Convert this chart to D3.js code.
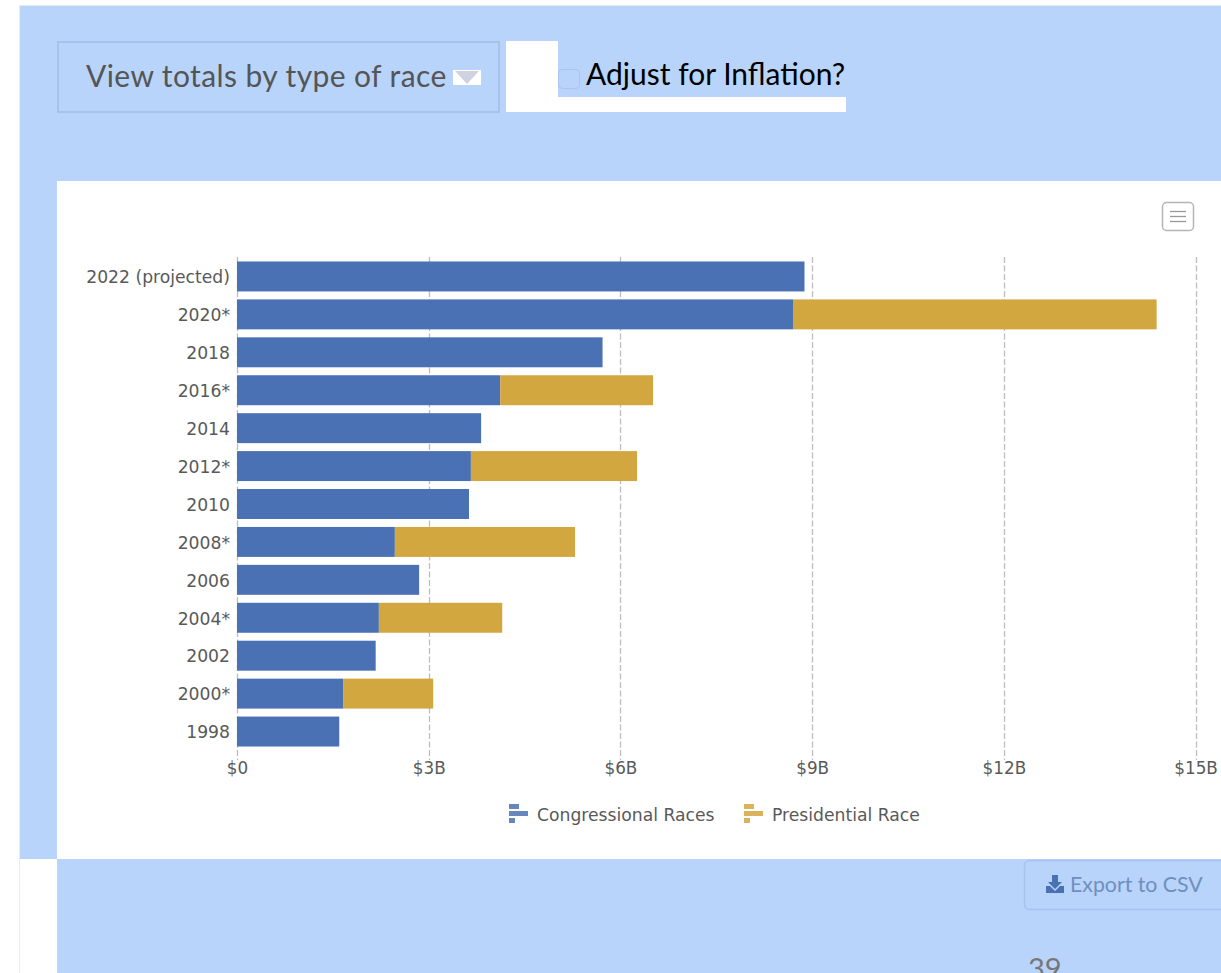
<!DOCTYPE html>
<html><head><meta charset="utf-8">
<script src="https://cdn.jsdelivr.net/npm/d3@7"></script>
<style>html,body{margin:0;padding:0;background:#fff;overflow:hidden}svg{display:block}</style>
</head><body><div id="chart"></div>
<script>
const years = ["2022 (projected)","2020*","2018","2016*","2014","2012*","2010","2008*","2006","2004*","2002","2000*","1998"];
const congressional = [8.88,8.70,5.72,4.12,3.82,3.66,3.63,2.47,2.85,2.22,2.17,1.66,1.60];
const presidential = [0,5.69,0,2.39,0,2.60,0,2.82,0,1.93,0,1.41,0];
const xTicks = [0,3,6,9,12,15];
const seriesNames = ["Congressional Races","Presidential Race"];
const seriesColors = ["#4A71B3","#D2A73F"];

const W=1221,H=973, sans='"DejaVu Sans",sans-serif', ui='Lato,"Open Sans",sans-serif';
const svg=d3.select("#chart").append("svg").attr("width",W).attr("height",H);
const rect=(x,y,w,h,f)=>svg.append("rect").attr("x",x).attr("y",y).attr("width",w).attr("height",h).attr("fill",f);
const blue="#B8D4FB";

// page panels
rect(0,0,W,H,"#fff");
rect(20,5,W-20,854,blue);
rect(20,5,W-20,1,"#e4e9f0");
rect(19,5,1,H-5,"#ececec");
rect(57,859,W-57,H-859,blue);
rect(57,181,W-57,678,"#fff");

// dropdown
svg.append("rect").attr("x",58).attr("y",42).attr("width",441).attr("height",70).attr("fill",blue).attr("stroke","#A6C3EE").attr("stroke-width",2);
svg.append("text").attr("x",86).attr("y",87).attr("font-family",ui).attr("font-size",30).attr("letter-spacing",0.4).attr("fill","#555").text("View totals by type of race");
rect(453,70,28,15,"#fff");
svg.append("path").attr("d","M455,71 L479,71 L467,84 Z").attr("fill","#D0D2E2");

// checkbox area
rect(506,41,52,71,"#fff");
rect(558,97,288,15,"#fff");
svg.append("rect").attr("x",558.5).attr("y",69.5).attr("width",21).attr("height",19).attr("rx",4).attr("fill",blue).attr("stroke","#A9C5EF");
svg.append("text").attr("x",586).attr("y",85).attr("font-family",ui).attr("font-size",30).attr("fill","#000").text("Adjust for Inflation?");

// menu button
svg.append("rect").attr("x",1162.5).attr("y",202.5).attr("width",31).attr("height",28).attr("rx",4).attr("fill","#fff").attr("stroke","#b5b5b5").attr("stroke-width",1.5);
[211,216,221].forEach(y=>svg.append("line").attr("x1",1170).attr("x2",1186).attr("y1",y+.5).attr("y2",y+.5).attr("stroke","#999").attr("stroke-width",1.3));

// scales
const x=d3.scaleLinear().domain([0,15]).range([237,1195.6]);
const y=d3.scaleBand().domain(years).range([257.5,750.5]).paddingInner(0.21).paddingOuter(0.105);

// grid
const grid=svg.append("g");
grid.selectAll("line").data(xTicks).join("line")
 .attr("x1",d=>Math.round(x(d))+.5).attr("x2",d=>Math.round(x(d))+.5).attr("y1",257).attr("y2",760)
 .attr("stroke","#bdbdbd").attr("stroke-width",1.3).attr("stroke-dasharray","6,2.5");

// bars
const rows=years.map((yr,i)=>({yr,c:congressional[i],p:presidential[i]}));
const g=svg.append("g");
g.selectAll("rect.c").data(rows).join("rect").attr("class","c")
 .attr("x",x(0)).attr("y",d=>y(d.yr)).attr("height",y.bandwidth()).attr("width",d=>x(d.c)-x(0)).attr("fill",seriesColors[0]);
g.selectAll("rect.p").data(rows.filter(d=>d.p>0)).join("rect").attr("class","p")
 .attr("x",d=>x(d.c)).attr("y",d=>y(d.yr)).attr("height",y.bandwidth()).attr("width",d=>x(d.c+d.p)-x(d.c)).attr("fill",seriesColors[1]);

// axes
const yAxis=d3.axisLeft(y).tickSize(0).tickPadding(7);
const ga=svg.append("g").attr("transform","translate(237,0.6)").call(yAxis);
ga.select(".domain").remove();
ga.selectAll("text").attr("font-family",sans).attr("font-size",17.2).attr("fill","#595959").attr("dy","0.36em");

const xAxis=d3.axisBottom(x).tickValues(xTicks).tickSize(0).tickPadding(0).tickFormat(d=>d===0?"$0":"$"+d+"B");
const gx=svg.append("g").attr("transform","translate(0,768)").call(xAxis);
gx.select(".domain").remove();
gx.selectAll("text").attr("font-family",sans).attr("font-size",16.8).attr("fill","#595959").attr("dy","0.36em").attr("y",0);

// legend
const legendX=[509,744], legendTextX=[537,772];
seriesNames.forEach((n,i)=>{
  const lg=svg.append("g").attr("transform",`translate(${legendX[i]},804)`);
  lg.append("rect").attr("x",0).attr("y",0).attr("width",10).attr("height",5).attr("fill",seriesColors[i]).attr("opacity",.85);
  lg.append("rect").attr("x",0).attr("y",7).attr("width",19).attr("height",5).attr("fill",seriesColors[i]).attr("opacity",.85);
  lg.append("rect").attr("x",0).attr("y",14).attr("width",6).attr("height",5).attr("fill",seriesColors[i]).attr("opacity",.85);
  svg.append("text").attr("x",legendTextX[i]).attr("y",821).attr("font-family",sans).attr("font-size",17.2).attr("fill","#595959").text(n);
});

// export button
svg.append("rect").attr("x",1024.5).attr("y",860.5).attr("width",205).attr("height",49).attr("rx",5).attr("fill",blue).attr("stroke","#A6C3EE").attr("stroke-width",1.5);
svg.append("path").attr("d","M1052,875 h6 v7 h4 l-7,7 l-7,-7 h4 Z M1046,886 h4 l5,5 l5,-5 h4 v7 h-18 Z").attr("fill","#4A71B3");
svg.append("text").attr("x",1070).attr("y",892).attr("font-family",ui).attr("font-size",21.3).attr("fill","#6F8FBE").text("Export to CSV");
svg.append("text").attr("x",1028).attr("y",979).attr("font-family",ui).attr("font-size",29).attr("fill","#777").text("39");
</script></body></html>
